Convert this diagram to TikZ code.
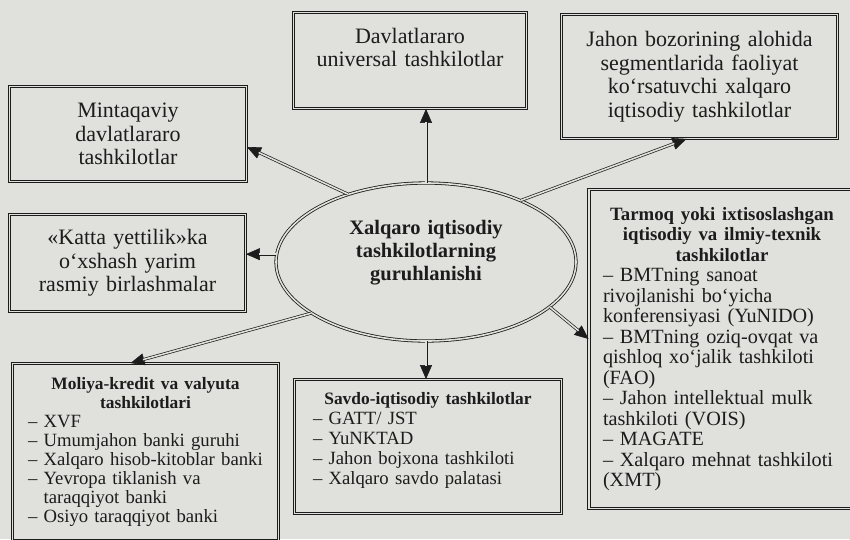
\documentclass[tikz,border=0pt]{standalone}
\usepackage{fontspec}
\setmainfont{Liberation Serif}
\usetikzlibrary{arrows.meta,positioning,calc,shapes.geometric}
\definecolor{paper}{RGB}{224,224,221}
\definecolor{ink}{RGB}{28,28,28}

\begin{document}
\begin{tikzpicture}[x=1pt, y=-1pt,
    box/.style={draw=ink, double=paper, double distance=1.7pt, line width=0.8pt,
      inner sep=0pt, align=center, text=ink, font=\fontsize{22}{23.5}\selectfont},
    listbox/.style={box, align=left},
    core/.style={ellipse, draw=ink, double=paper, double distance=1.6pt, line width=0.8pt,
      inner sep=0pt, align=center, text=ink, font=\bfseries\fontsize{20.5}{23}\selectfont},
    tipline/.style={draw=ink, line width=0.6pt, -{Triangle[length=14pt,width=12pt]}},
    shaft/.style={draw=ink, double=paper, double distance=1.6pt, line width=0.7pt, shorten >=13pt}]
    % paper and page frame
    \fill[paper] (0,0) rectangle (850,539);
    \useasboundingbox (0,0) rectangle (850,539);
    % centre
    \node[core, minimum width=300, minimum height=158, text width=200] (grp) at (426,262)
      {Xalqaro iqtisodiy\\ tashkilotlarning\\ guruhlanishi\par\vspace{18pt}};
    % upper boxes
    \node[box, minimum width=237, minimum height=95, text width=230] (mint) at (128,134)
      {Mintaqaviy\\ davlatlararo\\ tashkilotlar};
    \node[box, minimum width=233, minimum height=96, text width=226] (univ) at (410,60.5)
      {Davlatlararo\\ universal tashkilotlar\par\vspace{26pt}};
    \node[box, minimum width=276, minimum height=124, text width=268] (jahon) at (699.5,76.5)
      {Jahon bozorining alohida\\ segmentlarida faoliyat\\ ko‘rsatuvchi xalqaro\\ iqtisodiy tashkilotlar};
    \node[box, minimum width=236, minimum height=97, text width=228] (katta) at (127.5,263)
      {«Katta yettilik»ka\\ o‘xshash yarim\\ rasmiy birlashmalar};
    % lower boxes with lists
    \node[listbox, minimum width=266, minimum height=177, text width=235,
      font=\fontsize{18.7}{19}\selectfont] (moliya) at (145.5,452)
      {{\centering\bfseries\fontsize{17.4}{19}\selectfont Moliya-kredit va valyuta\\ tashkilotlari\par}
       – XVF\\
       – Umumjahon banki guruhi\\
       – Xalqaro hisob-kitoblar banki\\
       – Yevropa tiklanish va\\
       \hphantom{– }taraqqiyot banki\\
       – Osiyo taraqqiyot banki};
    \node[listbox, minimum width=267, minimum height=134, text width=230,
      font=\fontsize{18.7}{20}\selectfont] (savdo) at (428,446.5)
      {{\centering\bfseries\fontsize{17.4}{20}\selectfont Savdo-iqtisodiy tashkilotlar\par}
       – GATT/ JST\\
       – YuNKTAD\\
       – Jahon bojxona tashkiloti\\
       – Xalqaro savdo palatasi\par\vspace{12pt}};
    \node[listbox, minimum width=266, minimum height=319, text width=238,
      font=\fontsize{20.2}{20.5}\selectfont] (tarmoq) at (722,349)
      {{\centering\bfseries\fontsize{18.8}{20.5}\selectfont Tarmoq yoki ixtisoslashgan\\ iqtisodiy va ilmiy-texnik\\ tashkilotlar\par}
       – BMTning sanoat\\
       rivojlanishi bo‘yicha\\
       konferensiyasi (YuNIDO)\\
       – BMTning oziq-ovqat va\\
       qishloq xo‘jalik tashkiloti\\
       (FAO)\\
       – Jahon intellektual mulk\\
       tashkiloti (VOIS)\\
       – MAGATE\\
       – Xalqaro mehnat tashkiloti\\
       (XMT)};
    % connector ends
    \coordinate (toUniv) at (grp.north |- univ.south);
    \coordinate (toMint) at ($(mint.east)+(0,13)$);
    \coordinate (toJahon) at ($(jahon.south)+(-13,0)$);
    \coordinate (toKatta) at (grp.177 -| katta.east);
    \coordinate (toMoliya) at ($(moliya.north)+(-15,0)$);
    \coordinate (toSavdo) at (grp.south |- savdo.north);
    \coordinate (toTarmoq) at ($(tarmoq.west)+(0,-10)$);
    % double arrows: tip first, shaft on top
    \foreach \from/\to in {grp.north/toUniv, grp.139/toMint, grp.33/toJahon,
        grp.177/toKatta, grp.204/toMoliya, grp.south/toSavdo, grp.-20/toTarmoq}{
      \draw[tipline] (\from) -- (\to);
      \draw[shaft] (\from) -- (\to);
    }
\end{tikzpicture}
\end{document}
